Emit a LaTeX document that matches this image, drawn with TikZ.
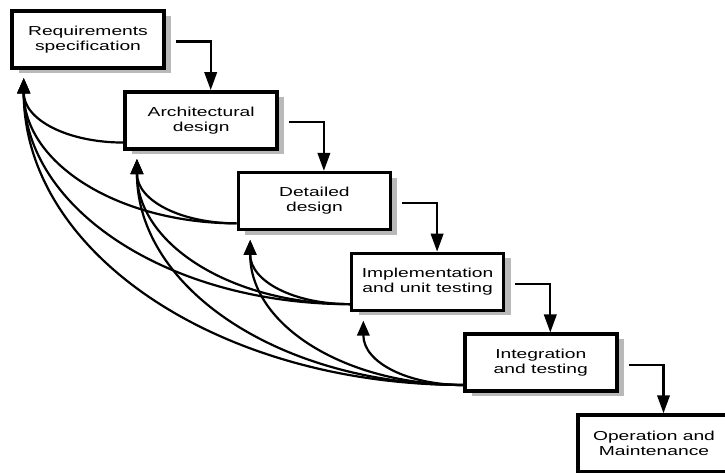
\documentclass[tikz,border=0pt]{standalone}
\usepackage{fontspec}
\setmainfont{Liberation Sans}[FakeStretch=1.48]
\usetikzlibrary{arrows.meta,shadows}

\begin{document}
\begin{tikzpicture}[x=1pt, y=1pt, >={Triangle[width=12.5pt,length=15pt]},
  phase/.style={draw, line width=3.5pt, fill=white, align=center, inner sep=2pt,
    minimum width=152pt, minimum height=57pt, font=\fontsize{13}{15}\selectfont,
    execute at begin node={\rule{0pt}{15.5pt}},
    drop shadow={shadow xshift=7pt, shadow yshift=-5pt, fill=black!55}},
  fwd/.style={-{Triangle[width=12.5pt,length=18pt]}, line width=2.2pt},
  back/.style={->, line width=2.2pt}]
  \useasboundingbox (0,0) rectangle (725,-472);
  \clip (0,0) rectangle (725,-472);
  \node[phase] (req)   at (88,-39.5)    {Requirements\\specification};
  \node[phase] (arch)  at (201.2,-120.3) {Architectural\\design};
  \node[phase] (det)   at (314.4,-201.1) {Detailed\\design};
  \node[phase] (impl)  at (427.6,-281.9) {Implementation\\and unit testing};
  \node[phase] (integ) at (540.8,-362.7) {Integration\\and testing};
  \node[phase] (oper)  at (654,-443.5)   {Operation and\\Maintenance};
  % feedback targets (just below each box)
  \coordinate (reqfb)  at ([xshift=13.5pt,yshift=-8.5pt]req.south west);
  \coordinate (archfb) at ([xshift=13.5pt,yshift=-8.5pt]arch.south west);
  \coordinate (detfb)  at ([xshift=13.5pt,yshift=-8.5pt]det.south west);
  \coordinate (implfb) at ([xshift=13.5pt,yshift=-8.5pt]impl.south west);
  % forward steps
  \draw[fwd] ([xshift=10pt,yshift=-2pt]req.east)   -| ([xshift=9.5pt]arch.north);
  \draw[fwd] ([xshift=10pt,yshift=-2pt]arch.east)  -| ([xshift=9.5pt]det.north);
  \draw[fwd] ([xshift=10pt,yshift=-2pt]det.east)   -| ([xshift=9.5pt]impl.north);
  \draw[fwd] ([xshift=10pt,yshift=-2pt]impl.east)  -| ([xshift=9.5pt]integ.north);
  \draw[fwd] ([xshift=10pt,yshift=-2pt]integ.east) -| ([xshift=9.5pt]oper.north);
  % iteration back to earlier phases
  \draw[back] ([yshift=8pt]arch.south west) .. controls +(-55,0) and +(0,-42) .. (reqfb);
  \draw[back] ([yshift=8pt]det.south west) .. controls +(-55,0) and +(0,-42) .. (archfb);
  \draw[back] ([yshift=8pt]det.south west) .. controls +(-117,0) and +(0,-86) .. (reqfb);
  \draw[back] ([yshift=8pt]impl.south west) .. controls +(-55,0) and +(0,-42) .. (detfb);
  \draw[back] ([yshift=8pt]impl.south west) .. controls +(-117,0) and +(0,-86) .. (archfb);
  \draw[back] ([yshift=8pt]impl.south west) .. controls +(-180,0) and +(0,-131) .. (reqfb);
  \draw[back] ([yshift=8pt]integ.south west) .. controls +(-55,0) and +(0,-42) .. (implfb);
  \draw[back] ([yshift=8pt]integ.south west) .. controls +(-117,0) and +(0,-86) .. (detfb);
  \draw[back] ([yshift=8pt]integ.south west) .. controls +(-180,0) and +(0,-131) .. (archfb);
  \draw[back] ([yshift=8pt]integ.south west) .. controls +(-242,0) and +(0,-176) .. (reqfb);
\end{tikzpicture}
\end{document}
